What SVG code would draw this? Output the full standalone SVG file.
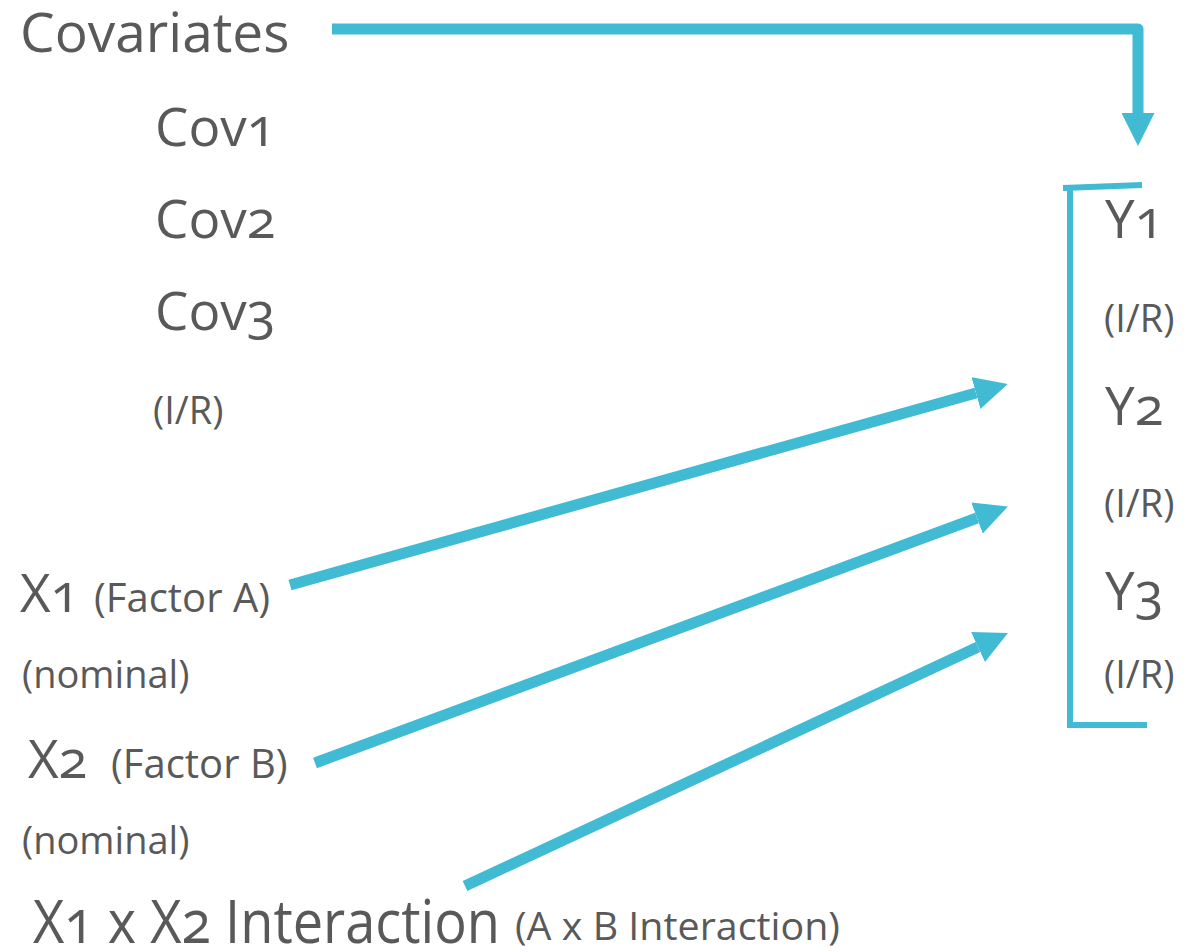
<svg xmlns="http://www.w3.org/2000/svg" width="1191" height="952" viewBox="0 0 1191 952">
  <style>
    text { font-family: "Open Sans", "Noto Sans", "DejaVu Sans", sans-serif; fill: #595959; font-variant-numeric: oldstyle-nums; }
    .big { font-size: 55px; }
    .mid { font-size: 53px; }
    .small { font-size: 38px; }
    .factor { font-size: 40px; }
    .conn { fill: none; stroke: #41BAD4; stroke-width: 11; stroke-linejoin: round; marker-end: url(#head); }
    .bracket { fill: none; stroke: #41BAD4; stroke-width: 6; }
  </style>
  <defs>
    <marker id="head" markerUnits="strokeWidth" markerWidth="3" markerHeight="3" refX="0" refY="1.5" orient="auto" viewBox="0 0 3 3">
      <path d="M0,0 L3,1.5 L0,3 z" fill="#41BAD4"/>
    </marker>
  </defs>

  <!-- connectors -->
  <g id="connectors">
    <path class="conn" d="M332,29 L1138,29 L1138,113"/>
    <path class="conn" d="M290,585 L976,393"/>
    <path class="conn" d="M315,763 L977,518"/>
    <path class="conn" d="M465,886 L978,647"/>
  </g>

  <!-- covariates -->
  <g id="covariates">
    <text class="big" x="20" y="52">Covariates</text>
    <text class="mid" x="155" y="146">Cov1</text>
    <text class="mid" x="155" y="238">Cov2</text>
    <text class="mid" x="155" y="330">Cov3</text>
    <text class="small" x="153" y="424">(I/R)</text>
  </g>

  <!-- factor A -->
  <g id="x1">
    <text class="mid" x="20" y="612">X1</text>
    <text class="factor" x="94" y="612">(Factor A)</text>
    <text class="small" x="22" y="688">(nominal)</text>
  </g>

  <!-- factor B -->
  <g id="x2">
    <text class="mid" x="28" y="778">X2</text>
    <text class="factor" x="111" y="778">(Factor B)</text>
    <text class="small" x="22" y="854">(nominal)</text>
  </g>

  <!-- interaction -->
  <g id="interaction">
    <text x="33" y="943" font-size="60" textLength="467" lengthAdjust="spacingAndGlyphs">X1 x X2 Interaction</text>
    <text x="515" y="940" font-size="39" textLength="325" lengthAdjust="spacingAndGlyphs">(A x B Interaction)</text>
  </g>

  <!-- outcomes -->
  <g id="outcomes">
    <path class="bracket" d="M1063,188 L1142,185 M1070,186 L1070,728 M1067,725 L1147,725"/>
    <text class="mid" x="1105" y="238">Y1</text>
    <text class="small" x="1104" y="332">(I/R)</text>
    <text class="mid" x="1105" y="425">Y2</text>
    <text class="small" x="1104" y="517">(I/R)</text>
    <text class="mid" x="1105" y="610">Y3</text>
    <text class="small" x="1104" y="688">(I/R)</text>
  </g>
</svg>
